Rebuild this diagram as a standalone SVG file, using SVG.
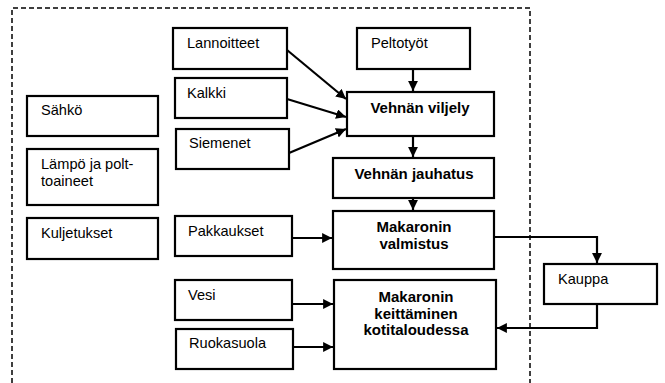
<svg xmlns="http://www.w3.org/2000/svg" width="665" height="383" viewBox="0 0 665 383">
<style>
.box{fill:#fff;stroke:#000;stroke-width:2.2}
.t{font-family:"Liberation Sans",Arial,sans-serif;font-size:14.6px;fill:#000}
.b{font-family:"Liberation Sans",Arial,sans-serif;font-size:15px;font-weight:bold;fill:#000;text-anchor:middle}
.c{fill:none;stroke:#000;stroke-width:2.2}
</style>
<defs>
<marker id="ah" viewBox="0 0 10 10" refX="10" refY="5" markerWidth="4.5" markerHeight="4.5" orient="auto" markerUnits="strokeWidth">
<path d="M0,0 L10,5 L0,10 z" fill="#000"/>
</marker>
</defs>
<rect width="665" height="383" fill="#fff"/>
<path d="M12,383 V8 H530 V383" fill="none" stroke="#000" stroke-width="1.5" stroke-dasharray="5,3"/>
<g id="connectors">
<line class="c" x1="287" y1="50" x2="346" y2="99" marker-end="url(#ah)"/>
<line class="c" x1="287" y1="99" x2="346" y2="117" marker-end="url(#ah)"/>
<line class="c" x1="289" y1="153" x2="346" y2="129" marker-end="url(#ah)"/>
<line class="c" x1="413" y1="69" x2="413" y2="91" marker-end="url(#ah)"/>
<line class="c" x1="413" y1="136" x2="413" y2="157" marker-end="url(#ah)"/>
<line class="c" x1="413" y1="198" x2="413" y2="210" marker-end="url(#ah)"/>
<line class="c" x1="292" y1="238" x2="332" y2="238" marker-end="url(#ah)"/>
<line class="c" x1="292" y1="304" x2="333" y2="304" marker-end="url(#ah)"/>
<line class="c" x1="293" y1="347" x2="333" y2="347" marker-end="url(#ah)"/>
<path class="c" d="M494,237 H597 V263" marker-end="url(#ah)"/>
<path class="c" d="M597,304 V328 H497" marker-end="url(#ah)"/>
</g>
<g id="lannoitteet"><rect class="box" x="173" y="28" width="114" height="41"/><text class="t" x="187" y="48">Lannoitteet</text></g>
<g id="kalkki"><rect class="box" x="175" y="78" width="112" height="40"/><text class="t" x="187" y="98">Kalkki</text></g>
<g id="siemenet"><rect class="box" x="176" y="129" width="113" height="40"/><text class="t" x="189" y="148">Siemenet</text></g>
<g id="sahko"><rect class="box" x="27" y="96" width="131" height="40"/><text class="t" x="41" y="115">Sähkö</text></g>
<g id="lampo"><rect class="box" x="27" y="149" width="131" height="56"/><text class="t" x="41" y="169">Lämpö ja polt-</text><text class="t" x="41" y="186">toaineet</text></g>
<g id="kuljetukset"><rect class="box" x="27" y="218" width="131" height="41"/><text class="t" x="41" y="238">Kuljetukset</text></g>
<g id="pakkaukset"><rect class="box" x="175" y="216" width="117" height="40"/><text class="t" x="188" y="236">Pakkaukset</text></g>
<g id="vesi"><rect class="box" x="175" y="280" width="117" height="40"/><text class="t" x="188" y="300">Vesi</text></g>
<g id="ruokasuola"><rect class="box" x="176" y="329" width="117" height="40"/><text class="t" x="189" y="348">Ruokasuola</text></g>
<g id="peltotyot"><rect class="box" x="357" y="28" width="113" height="41"/><text class="t" x="371" y="48">Peltotyöt</text></g>
<g id="viljely"><rect class="box" x="347" y="92" width="147" height="44"/><text class="b" x="420" y="113">Vehnän viljely</text></g>
<g id="jauhatus"><rect class="box" x="333" y="158" width="161" height="40"/><text class="b" x="414" y="179">Vehnän jauhatus</text></g>
<g id="valmistus"><rect class="box" x="333" y="211" width="161" height="58"/><text class="b" x="414" y="232">Makaronin</text><text class="b" x="414" y="248.5">valmistus</text></g>
<g id="keittaminen"><rect class="box" x="334" y="280" width="162" height="89"/><text class="b" x="416" y="302">Makaronin</text><text class="b" x="416" y="318.5">keittäminen</text><text class="b" x="416" y="335">kotitaloudessa</text></g>
<g id="kauppa"><rect class="box" x="544" y="264" width="113" height="40"/><text class="t" x="558" y="284">Kauppa</text></g>
</svg>
